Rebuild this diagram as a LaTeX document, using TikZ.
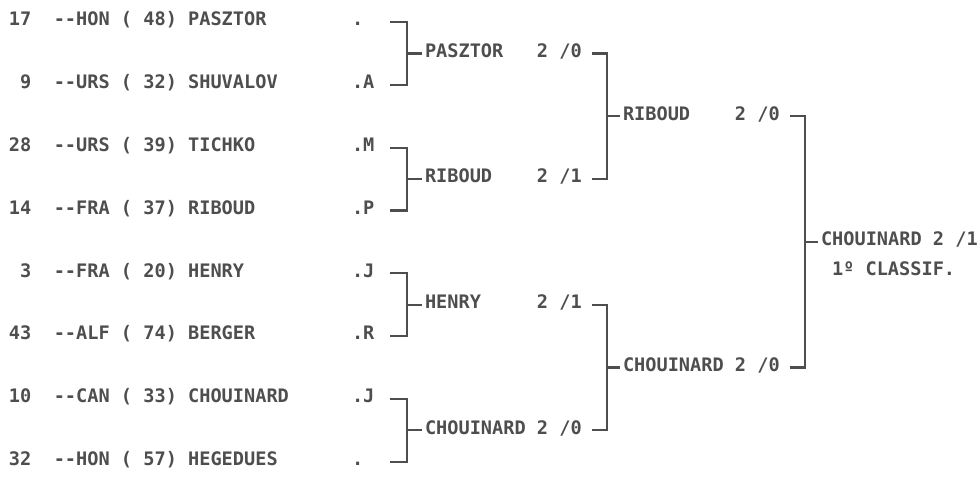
\documentclass[tikz,border=0pt]{standalone}
\usepackage{fontspec}
\setmonofont{DejaVu Sans Mono}[BoldFont={DejaVu Sans Mono Bold}]
\definecolor{ink}{HTML}{4E4E4E}
\begin{document}
\begin{tikzpicture}[x=1pt,y=-1pt,
  txt/.style={anchor=base west,inner sep=0pt,outer sep=0pt,text=ink,
    font=\ttfamily\bfseries\fontsize{18.6}{18.6}\selectfont},
  br/.style={draw=ink,line width=2.2pt,line cap=butt,line join=miter}]
\useasboundingbox (0,0) rectangle (980,483);
% ---- first column: players
\node[txt] (p1) at (9,25.8)  {17~~--HON~(~48)~PASZTOR};
\node[txt] (p2) at (9,88.6)  {~9~~--URS~(~32)~SHUVALOV};
\node[txt] (p3) at (9,151.4) {28~~--URS~(~39)~TICHKO};
\node[txt] (p4) at (9,214.2) {14~~--FRA~(~37)~RIBOUD};
\node[txt] (p5) at (9,277)   {~3~~--FRA~(~20)~HENRY};
\node[txt] (p6) at (9,339.8) {43~~--ALF~(~74)~BERGER};
\node[txt] (p7) at (9,402.6) {10~~--CAN~(~33)~CHOUINARD};
\node[txt] (p8) at (9,465.4) {32~~--HON~(~57)~HEGEDUES};
% ---- marks
\node[txt] (d1) at (352,25.8)  {.};
\node[txt] (d2) at (352,88.6)  {.A};
\node[txt] (d3) at (352,151.4) {.M};
\node[txt] (d4) at (352,214.2) {.P};
\node[txt] (d5) at (352,277)   {.J};
\node[txt] (d6) at (352,339.8) {.R};
\node[txt] (d7) at (352,402.6) {.J};
\node[txt] (d8) at (352,465.4) {.};
% ---- tick starts, round 1
\coordinate (c1) at (390,22);
\coordinate (c2) at (390,84.8);
\coordinate (c3) at (390,147.6);
\coordinate (c4) at (390,210.4);
\coordinate (c5) at (390,273.2);
\coordinate (c6) at (390,336);
\coordinate (c7) at (390,398.8);
\coordinate (c8) at (390,461.6);
\coordinate (j1) at (407,53.4);
\coordinate (j2) at (407,179);
\coordinate (j3) at (407,304.6);
\coordinate (j4) at (407,430.2);
\coordinate (k1) at (422,53.4);
\coordinate (k2) at (422,179);
\coordinate (k3) at (422,304.6);
\coordinate (k4) at (422,430.2);
% ---- round 2 winners
\node[txt] (w1) at (425,57.2)  {PASZTOR~~~2~/0};
\node[txt] (w2) at (425,182.8) {RIBOUD~~~~2~/1};
\node[txt] (w3) at (425,308.4) {HENRY~~~~~2~/1};
\node[txt] (w4) at (425,434)   {CHOUINARD~2~/0};
\coordinate (e1) at (592,53.4);
\coordinate (e2) at (592,179);
\coordinate (e3) at (592,304.6);
\coordinate (e4) at (592,430.2);
\coordinate (g1) at (607,116.2);
\coordinate (g2) at (607,367.4);
\coordinate (h1) at (620,116.2);
\coordinate (h2) at (620,367.4);
% ---- round 3 winners
\node[txt] (s1) at (623,120)   {RIBOUD~~~~2~/0};
\node[txt] (s2) at (623,371.2) {CHOUINARD~2~/0};
\coordinate (f1) at (790,116.2);
\coordinate (f2) at (790,367.4);
\coordinate (gf) at (805,241.8);
\coordinate (hf) at (818,241.8);
% ---- final
\node[txt] (fin) at (821,245.6) {CHOUINARD~2~/1};
\node[txt] (cls) at (832,275.6) {1º~CLASSIF.};
% ---- brackets
\draw[br] (c1) -| (j1) |- (c2);
\draw[br] (c3) -| (j2) |- (c4);
\draw[br] (c5) -| (j3) |- (c6);
\draw[br] (c7) -| (j4) |- (c8);
\draw[br] (j1) -- (k1);
\draw[br] (j2) -- (k2);
\draw[br] (j3) -- (k3);
\draw[br] (j4) -- (k4);
\draw[br] (e1) -| (g1) |- (e2);
\draw[br] (e3) -| (g2) |- (e4);
\draw[br] (g1) -- (h1);
\draw[br] (g2) -- (h2);
\draw[br] (f1) -| (gf) |- (f2);
\draw[br] (gf) -- (hf);
\end{tikzpicture}
\end{document}
